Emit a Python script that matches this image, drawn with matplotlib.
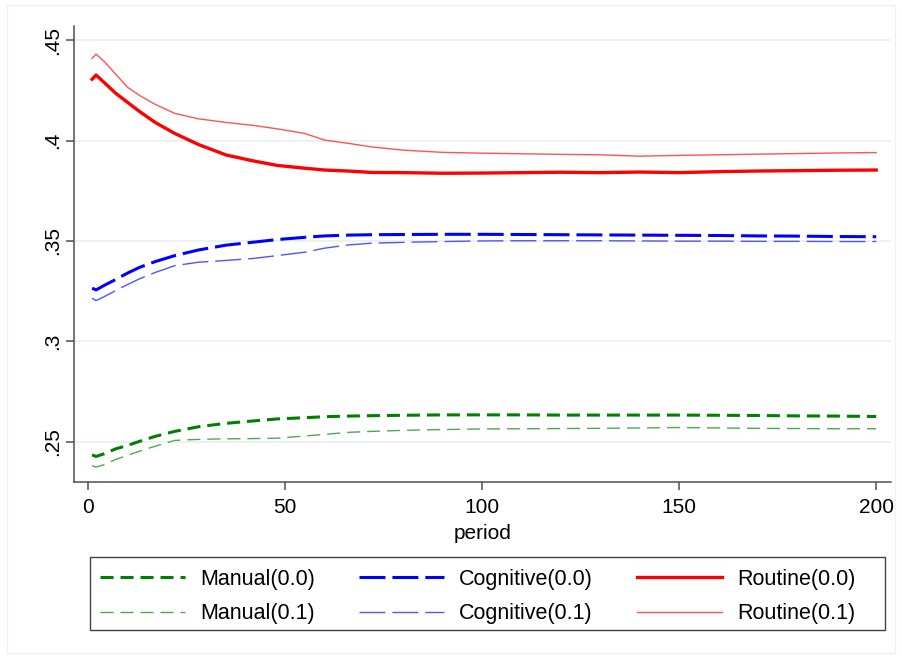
import matplotlib
matplotlib.use("Agg")
import matplotlib.pyplot as plt
from matplotlib.patches import Rectangle

plt.rcParams['font.family'] = ['Liberation Sans', 'DejaVu Sans']
plt.rcParams['lines.scale_dashes'] = False

period = [1, 2, 4, 7, 10, 13, 17, 22, 28, 35, 42, 48, 55, 60, 66, 72, 80, 90,
          100, 110, 120, 130, 140, 150, 160, 170, 180, 190, 200]

manual_00 = [0.2435, 0.2427, 0.2440, 0.2465, 0.2482, 0.2502, 0.2527, 0.2552, 0.2575,
             0.2592, 0.2604, 0.2614, 0.2620, 0.2625, 0.2628, 0.2630, 0.2632, 0.2634,
             0.2634, 0.2634, 0.2633, 0.2633, 0.2633, 0.2633, 0.2632, 0.2631, 0.2629,
             0.2628, 0.2626]
manual_01 = [0.2381, 0.2374, 0.2386, 0.2412, 0.2433, 0.2453, 0.2478, 0.2507, 0.2512,
             0.2515, 0.2516, 0.2518, 0.2529, 0.2537, 0.2547, 0.2552, 0.2557, 0.2561,
             0.2564, 0.2565, 0.2566, 0.2567, 0.2569, 0.2571, 0.2569, 0.2567, 0.2566,
             0.2565, 0.2565]
cognitive_00 = [0.3265, 0.3256, 0.3278, 0.3308, 0.3340, 0.3368, 0.3397, 0.3427, 0.3455,
                0.3479, 0.3494, 0.3507, 0.3518, 0.3525, 0.3529, 0.3531, 0.3532, 0.3533,
                0.3533, 0.3532, 0.3531, 0.3530, 0.3529, 0.3528, 0.3527, 0.3525, 0.3524,
                0.3522, 0.3521]
cognitive_01 = [0.3215, 0.3203, 0.3222, 0.3253, 0.3283, 0.3311, 0.3343, 0.3377, 0.3394,
                0.3403, 0.3413, 0.3427, 0.3444, 0.3464, 0.3480, 0.3489, 0.3493, 0.3497,
                0.3500, 0.3501, 0.3501, 0.3501, 0.3500, 0.3499, 0.3499, 0.3498, 0.3498,
                0.3497, 0.3497]
routine_00 = [0.4305, 0.4326, 0.4290, 0.4235, 0.4190, 0.4145, 0.4090, 0.4035, 0.3980,
              0.3928, 0.3898, 0.3876, 0.3862, 0.3853, 0.3848, 0.3841, 0.3840, 0.3837,
              0.3838, 0.3840, 0.3842, 0.3840, 0.3843, 0.3840, 0.3845, 0.3848, 0.3850,
              0.3852, 0.3853]
routine_01 = [0.4409, 0.4430, 0.4395, 0.4330, 0.4265, 0.4225, 0.4180, 0.4135, 0.4108,
              0.4090, 0.4075, 0.4058, 0.4035, 0.4002, 0.3986, 0.3968, 0.3952, 0.3941,
              0.3937, 0.3934, 0.3931, 0.3929, 0.3922, 0.3926, 0.3929, 0.3932, 0.3935,
              0.3938, 0.3940]

yticks = [0.25, 0.3, 0.35, 0.4, 0.45]
ytick_labels = ['.25', '.3', '.35', '.4', '.45']
xticks = [0, 50, 100, 150, 200]

W, H = 902, 657
fig = plt.figure(figsize=(W / 100, H / 100), dpi=100)
ax = fig.add_axes([0.082, 0.2664, 0.906, 0.694])

thick = 2.2
thin = 1.0
short_dash = (9.4, 5.0)
long_dash = (18.7, 5.0)

ax.plot(period, manual_00, color='#008000', lw=thick, dashes=short_dash, label='Manual(0.0)')
ax.plot(period, manual_01, color='#52a852', lw=thin, dashes=short_dash, label='Manual(0.1)')
ax.plot(period, cognitive_00, color='#0000ff', lw=thick, dashes=long_dash, label='Cognitive(0.0)')
ax.plot(period, cognitive_01, color='#5252ff', lw=thin, dashes=long_dash, label='Cognitive(0.1)')
ax.plot(period, routine_00, color='#ff0000', lw=thick + 0.2, label='Routine(0.0)')
ax.plot(period, routine_01, color='#ff5252', lw=thin, label='Routine(0.1)')

ax.set_xlim(-3.6, 203.8)
ax.set_ylim(0.230, 0.457)
ax.set_yticks(yticks)
ax.set_yticklabels(ytick_labels, rotation=90, va='center')
ax.set_xticks(xticks)
ax.yaxis.grid(True, color='#e8f0f2', lw=1.2)
ax.set_axisbelow(True)

for s in ['top', 'right']:
    ax.spines[s].set_visible(False)
for s in ['left', 'bottom']:
    ax.spines[s].set_color('#505050')
    ax.spines[s].set_linewidth(1.1)
ax.tick_params(axis='both', colors='#505050', length=5.5, width=1.1, labelsize=15,
               labelcolor='black')
ax.tick_params(axis='x', pad=6)
ax.tick_params(axis='y', pad=3)
ax.set_xlabel('period', fontsize=15, labelpad=5)

# legend box drawn separately, entries placed inside it
fig.patches.append(Rectangle((90 / W, 1 - 630 / H), 795 / W, 73 / H,
                             transform=fig.transFigure, fill=False,
                             edgecolor='#404040', lw=1.0))
handles, labels = ax.get_legend_handles_labels()
leg = fig.legend(handles, labels,
                 ncol=3, loc='upper left', bbox_to_anchor=(100 / W, 1 - 569 / H),
                 fontsize=15.5, frameon=False,
                 handlelength=3.95, handletextpad=0.7, borderaxespad=0,
                 columnspacing=2.05, labelspacing=0.62, borderpad=0)

fig.patches.append(Rectangle((7 / W, 4 / H), 888 / W, 648 / H,
                             transform=fig.transFigure, fill=False,
                             edgecolor='#f0f0f0', lw=1))

fig.savefig('out.png', dpi=100)
